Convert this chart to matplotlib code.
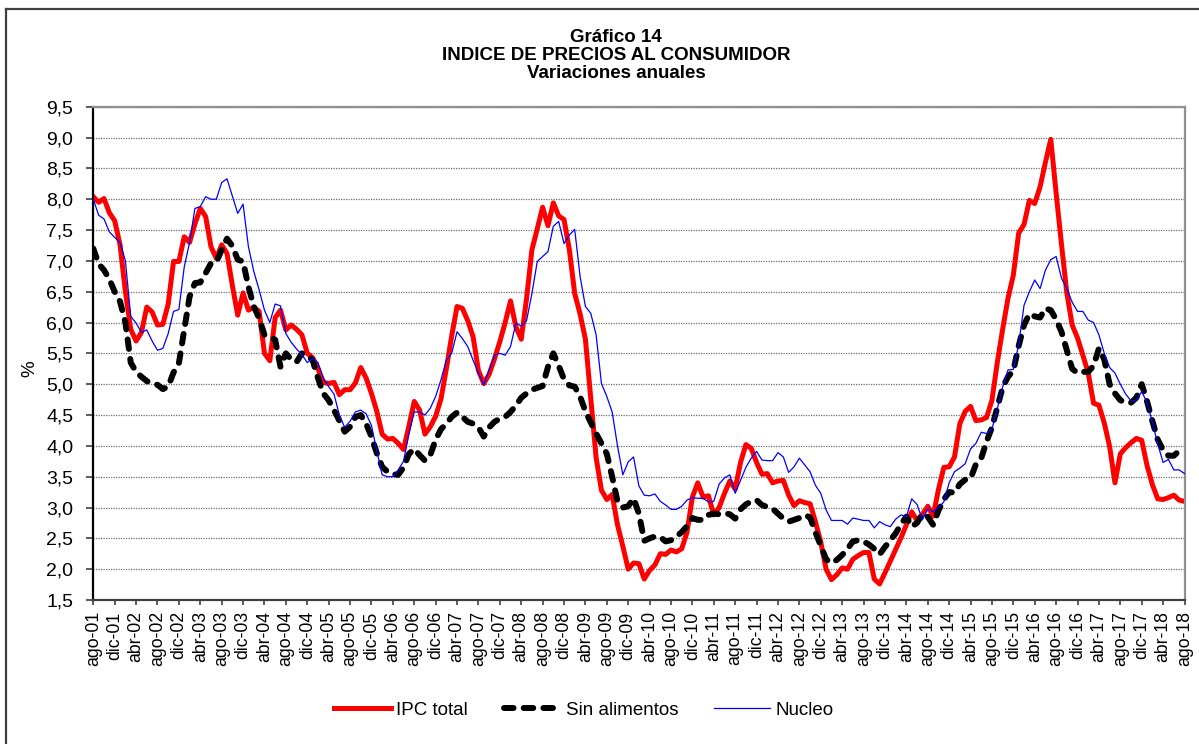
import numpy as np
import matplotlib
matplotlib.use("Agg")
import matplotlib.pyplot as plt
from matplotlib.lines import Line2D

plt.rcParams['font.family'] = ['Liberation Sans', 'DejaVu Sans']

# ---------------- data (monthly, ago-01 ... ago-18) ----------------
ipc_total = [
    8.04, 7.95, 8.01, 7.78, 7.65,
    7.26, 6.50, 5.89, 5.70, 5.84, 6.25, 6.17, 5.96, 5.97, 6.30, 6.99, 6.99,
    7.39, 7.30, 7.60, 7.85, 7.72, 7.23, 7.04, 7.26, 7.12, 6.60, 6.12, 6.48,
    6.20, 6.25, 6.18, 5.50, 5.38, 6.08, 6.20, 5.88, 5.96, 5.89, 5.80, 5.50,
    5.43, 5.25, 5.03, 5.01, 5.03, 4.83, 4.91, 4.91, 5.02, 5.27, 5.10, 4.85,
    4.56, 4.19, 4.11, 4.12, 4.04, 3.94, 4.32, 4.72, 4.58, 4.19, 4.31, 4.48,
    4.76, 5.25, 5.78, 6.26, 6.23, 6.03, 5.77, 5.22, 5.01, 5.16, 5.41, 5.69,
    6.00, 6.35, 5.93, 5.73, 6.39, 7.18, 7.52, 7.87, 7.57, 7.94, 7.73, 7.67,
    7.18, 6.47, 6.14, 5.73, 4.76, 3.81, 3.28, 3.13, 3.21, 2.72, 2.37, 2.00,
    2.10, 2.09, 1.84, 1.98, 2.07, 2.25, 2.24, 2.31, 2.28, 2.33, 2.60, 3.17,
    3.40, 3.17, 3.19, 2.88, 3.00, 3.23, 3.43, 3.30, 3.73, 4.02, 3.96, 3.73,
    3.54, 3.55, 3.40, 3.43, 3.44, 3.20, 3.03, 3.11, 3.08, 3.06, 2.77, 2.44,
    2.00, 1.83, 1.91, 2.02, 2.00, 2.16, 2.22, 2.27, 2.27, 1.84, 1.76, 1.94,
    2.13, 2.32, 2.51, 2.72, 2.93, 2.79, 2.89, 3.02, 2.86, 3.29, 3.65, 3.66,
    3.82, 4.36, 4.56, 4.64, 4.41, 4.42, 4.46, 4.74, 5.35, 5.89, 6.39, 6.77,
    7.45, 7.59, 7.98, 7.93, 8.20, 8.60, 8.97, 8.10, 7.27, 6.48, 5.96, 5.75,
    5.47, 5.18, 4.69, 4.66, 4.37, 3.99, 3.40, 3.87, 3.97, 4.05, 4.12, 4.09,
    3.68, 3.37, 3.14, 3.13, 3.16, 3.20, 3.12, 3.10,
]

sin_alimentos = [
    7.20, 6.95, 6.85, 6.70, 6.50,
    6.34, 6.00, 5.35, 5.20, 5.12, 5.05, 5.01, 4.99, 4.92, 4.96, 5.19, 5.34,
    5.88, 6.42, 6.64, 6.65, 6.80, 6.96, 6.98, 7.18, 7.36, 7.24, 7.02, 6.99,
    6.58, 6.26, 6.07, 5.80, 5.77, 5.72, 5.28, 5.50, 5.40, 5.36, 5.50, 5.47,
    5.39, 5.10, 4.85, 4.74, 4.58, 4.41, 4.23, 4.31, 4.47, 4.50, 4.36, 4.15,
    3.88, 3.66, 3.58, 3.54, 3.53, 3.65, 3.87, 3.95, 3.85, 3.76, 3.85, 4.10,
    4.27, 4.36, 4.47, 4.54, 4.47, 4.39, 4.36, 4.30, 4.15, 4.30, 4.39, 4.44,
    4.47, 4.55, 4.65, 4.78, 4.85, 4.91, 4.94, 4.97, 5.28, 5.50, 5.30, 5.08,
    4.98, 4.96, 4.80, 4.56, 4.38, 4.20, 4.04, 3.87, 3.50, 3.10, 3.00, 3.02,
    3.15, 2.90, 2.46, 2.50, 2.53, 2.52, 2.45, 2.47, 2.53, 2.60, 2.70, 2.83,
    2.80, 2.80, 2.88, 2.90, 2.89, 2.91, 2.89, 2.82, 2.97, 3.05, 3.10, 3.12,
    3.04, 3.01, 2.98, 2.90, 2.82, 2.77, 2.80, 2.83, 2.88, 2.84, 2.60, 2.38,
    2.16, 2.10, 2.15, 2.23, 2.33, 2.45, 2.47, 2.45, 2.40, 2.33, 2.24, 2.36,
    2.47, 2.58, 2.73, 2.85, 2.69, 2.75, 2.90, 2.85, 2.72, 2.95, 3.13, 3.25,
    3.24, 3.38, 3.45, 3.47, 3.70, 3.80, 4.07, 4.30, 4.62, 4.95, 5.12, 5.22,
    5.62, 5.96, 6.14, 6.10, 6.08, 6.23, 6.20, 6.05, 5.85, 5.55, 5.25, 5.18,
    5.20, 5.20, 5.30, 5.58, 5.40, 5.00, 4.85, 4.74, 4.70, 4.70, 4.78, 5.00,
    4.72, 4.40, 4.10, 3.93, 3.84, 3.84, 3.92, 3.95,
]

nucleo = [
    8.00, 7.74, 7.68, 7.47, 7.38,
    7.30, 7.00, 6.10, 5.99, 5.84, 5.88, 5.70, 5.55, 5.58, 5.82, 6.18, 6.21,
    6.90, 7.30, 7.85, 7.88, 8.04, 8.00, 8.00, 8.27, 8.33, 8.05, 7.77, 7.92,
    7.23, 6.83, 6.53, 6.20, 6.00, 6.30, 6.27, 5.82, 5.68, 5.57, 5.48, 5.35,
    5.42, 5.35, 5.10, 4.96, 4.84, 4.50, 4.30, 4.40, 4.55, 4.58, 4.52, 4.33,
    3.92, 3.53, 3.50, 3.50, 3.61, 3.75, 4.20, 4.55, 4.55, 4.50, 4.61, 4.80,
    5.07, 5.39, 5.50, 5.85, 5.74, 5.61, 5.39, 5.18, 4.99, 5.23, 5.47, 5.50,
    5.47, 5.61, 5.99, 5.94, 6.03, 6.47, 6.99, 7.07, 7.15, 7.56, 7.64, 7.28,
    7.42, 7.51, 6.75, 6.26, 6.15, 5.80, 5.01, 4.80, 4.55, 4.00, 3.53, 3.74,
    3.82, 3.35, 3.20, 3.19, 3.22, 3.10, 3.04, 2.97, 2.97, 3.02, 3.12, 3.16,
    3.15, 3.15, 3.09, 3.10, 3.38, 3.48, 3.53, 3.23, 3.44, 3.65, 3.80, 3.91,
    3.77, 3.76, 3.76, 3.89, 3.82, 3.57, 3.66, 3.80, 3.69, 3.58, 3.36, 3.23,
    2.96, 2.79, 2.79, 2.79, 2.73, 2.83, 2.81, 2.79, 2.79, 2.67, 2.77, 2.72,
    2.69, 2.81, 2.88, 2.85, 3.14, 3.05, 2.80, 2.98, 2.93, 3.00, 3.09, 3.40,
    3.58, 3.64, 3.71, 3.95, 4.04, 4.22, 4.20, 4.27, 4.60, 4.95, 5.23, 5.24,
    5.64, 6.28, 6.50, 6.69, 6.55, 6.85, 7.02, 7.07, 6.72, 6.55, 6.33, 6.18,
    6.18, 6.04, 6.00, 5.80, 5.50, 5.27, 5.18, 5.00, 4.84, 4.73, 4.74, 4.88,
    4.70, 4.38, 4.03, 3.73, 3.78, 3.61, 3.61, 3.55,
]

tick_labels = [
    "ago-01", "dic-01", "abr-02", "ago-02", "dic-02", "abr-03", "ago-03", "dic-03",
    "abr-04", "ago-04", "dic-04", "abr-05", "ago-05", "dic-05", "abr-06", "ago-06",
    "dic-06", "abr-07", "ago-07", "dic-07", "abr-08", "ago-08", "dic-08", "abr-09",
    "ago-09", "dic-09", "abr-10", "ago-10", "dic-10", "abr-11", "ago-11", "dic-11",
    "abr-12", "ago-12", "dic-12", "abr-13", "ago-13", "dic-13", "abr-14", "ago-14",
    "dic-14", "abr-15", "ago-15", "dic-15", "abr-16", "ago-16", "dic-16", "abr-17",
    "ago-17", "dic-17", "abr-18", "ago-18",
]
tick_step = 4  # months between labels

series_names = ["IPC total", "Sin alimentos", "Nucleo"]
title_lines = ["Gráfico 14", "INDICE DE PRECIOS AL CONSUMIDOR", "Variaciones anuales"]

# ---------------- figure ----------------
W, H = 1199, 744
fig = plt.figure(figsize=(W / 100, H / 100), dpi=100)
fig.patch.set_facecolor("white")

L, R, T, B = 93.3, 1184.5, 106.7, 600.0
ax = fig.add_axes([L / W, 1 - B / H, (R - L) / W, (B - T) / H])

x = np.arange(len(ipc_total))
l1, = ax.plot(x, ipc_total, color="#FF0000", lw=3.6, zorder=2,
              solid_joinstyle="round", label=series_names[0])
l2, = ax.plot(x, sin_alimentos, color="black", lw=4.3, zorder=3,
              dashes=(1.6, 1.7), dash_capstyle="round", dash_joinstyle="round",
              label=series_names[1])
l3, = ax.plot(x, nucleo, color="#0000FF", lw=0.9, zorder=4, label=series_names[2])

ax.set_xlim(0, len(ipc_total) - 1)
ax.set_ylim(1.5, 9.5)

yt = np.arange(1.5, 9.51, 0.5)
ax.set_yticks(yt)
ax.set_yticklabels([f"{v:.1f}".replace(".", ",") for v in yt])
ax.yaxis.grid(True, linestyle=(0, (1, 1)), color="#707070", lw=0.9, zorder=0)
ax.set_axisbelow(True)

xt = np.arange(len(tick_labels)) * tick_step
ax.set_xticks(xt)
ax.set_xticklabels(tick_labels, rotation=90, ha="center", va="top")

ax.tick_params(axis="y", direction="out", length=5, width=1.2, color="#404040",
               pad=9.5, labelsize=14, labelcolor="black")
ax.tick_params(axis="x", direction="out", length=3.6, width=1.2, color="#404040",
               pad=4.5, labelsize=12.7, labelcolor="black")

ax.spines["left"].set_color("black")
ax.spines["left"].set_linewidth(1.6)
ax.spines["bottom"].set_color("#404040")
ax.spines["bottom"].set_linewidth(1.6)
ax.spines["top"].set_color("#909090")
ax.spines["top"].set_linewidth(1.6)
ax.spines["right"].set_color("#909090")
ax.spines["right"].set_linewidth(1.6)

# titles
title_y = [37, 55, 74]
for txt, yy in zip(title_lines, title_y):
    fig.text(616 / W, 1 - yy / H, txt, ha="center", va="center",
             fontsize=13.5, fontweight="bold")

# y label
fig.text(30 / W, 1 - 369 / H, "%", rotation=90, ha="center", va="center", fontsize=13.5)

# legend
ax.legend(handles=[l1, l2, l3], ncol=3, loc="center",
          bbox_to_anchor=(584 / W, 1 - 710 / H), bbox_transform=fig.transFigure,
          frameon=False, handlelength=3.0, handletextpad=0.3, columnspacing=1.9,
          fontsize=13.5, borderpad=0.2)

# outer frame (left & top edges visible)
fig.add_artist(Line2D([6 / W, 6 / W], [0, 1 - 9 / H], transform=fig.transFigure,
                      color="#404040", lw=1.6))
fig.add_artist(Line2D([6 / W, 1], [1 - 9 / H, 1 - 9 / H], transform=fig.transFigure,
                      color="#404040", lw=1.6))

fig.savefig("out.png", dpi=100)
